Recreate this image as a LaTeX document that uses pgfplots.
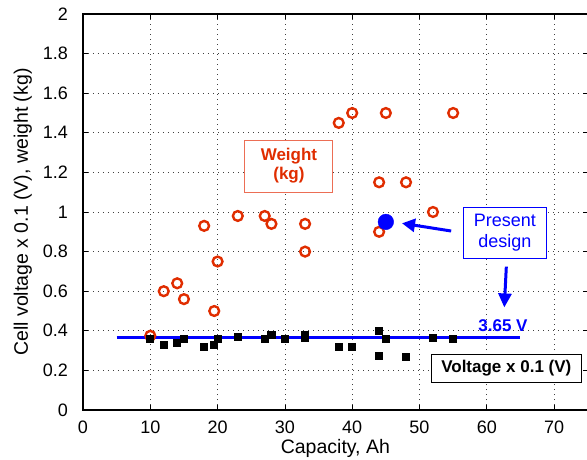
\documentclass[border=0pt]{standalone}
\usepackage{fontspec}
\setmainfont{Liberation Sans}
\usepackage{pgfplots}
\pgfplotsset{compat=1.18}
\usetikzlibrary{arrows.meta}

\definecolor{wred}{RGB}{224,45,0}
\definecolor{wredbox}{RGB}{236,110,85}
\definecolor{pblue}{RGB}{0,0,255}

\begin{document}
\begin{tikzpicture}
\begin{axis}[
    scale only axis,
    width=504.75bp, height=396bp,
    xmin=0, xmax=75, ymin=0, ymax=2,
    xtick={0,10,20,30,40,50,60,70},
    ytick={0,0.2,0.4,0.6,0.8,1,1.2,1.4,1.6,1.8,2},
    tick align=inside,
    major tick length=5bp,
    axis line style={line width=1.1bp},
    every tick/.style={black, line width=0.8bp},
    grid=major,
    major grid style={black!75, line width=0.7bp, dash pattern=on 0.8bp off 4.2bp},
    /pgf/number format/assume math mode=true,
    tick label style={font=\fontsize{18bp}{20bp}\selectfont},
    x tick label style={inner sep=0pt, yshift=-11bp},
    y tick label style={inner sep=0pt, xshift=-15bp},
    label style={font=\fontsize{19.5bp}{22bp}\selectfont},
    xlabel={Capacity, Ah},
    ylabel={Cell voltage x 0.1 (V), weight (kg)},
    x label style={at={(axis description cs:0.5,-0.1086)}, anchor=base},
    y label style={at={(axis description cs:-0.109,0.5)}, anchor=base},
    clip=false,
]
\coordinate (sw) at (rel axis cs:0,0);

% weight (kg)
\addplot[only marks, mark=o, wred, mark size=4.9bp, line width=2.4bp] coordinates {
    (10,0.375) (12,0.60) (14,0.64) (15,0.56) (18,0.93) (19.5,0.50) (20,0.75)
    (23,0.98) (27,0.98) (28,0.94) (33,0.94) (33,0.80) (38,1.45) (40,1.50)
    (44,1.15) (44,0.90) (45,1.50) (48,1.15) (52,1.00) (55,1.50)
};
% cell voltage x 0.1
\addplot[only marks, mark=square*, black, mark size=3.6bp, line width=0.8bp] coordinates {
    (10,0.36) (12,0.33) (14,0.34) (15,0.36) (18,0.32) (19.5,0.33) (20,0.36)
    (23,0.37) (27,0.36) (28,0.38) (30,0.36) (33,0.38) (33,0.365) (38,0.32)
    (40,0.32) (44,0.40) (44,0.275) (45,0.36) (48,0.27) (52,0.365) (55,0.36)
};
% 3.65 V line
\addplot[pblue, line width=3bp] coordinates {(5,0.365) (65,0.365)};
% present design
\addplot[only marks, mark=*, pblue, mark size=7.8bp] coordinates {(45,0.95)};

\draw[pblue, line width=3bp, -{Triangle[length=13bp,width=13bp]}]
    (axis cs:54.7,0.904) -- (axis cs:47.4,0.943);
\draw[pblue, line width=3bp, -{Triangle[length=14bp,width=13bp]}]
    (axis cs:62.9,0.724) -- (axis cs:62.6,0.518);

\node[draw=wredbox, line width=1bp, fill=white, text=wred, align=center,
      font=\bfseries\fontsize{17bp}{19bp}\selectfont,
      minimum width=88bp, minimum height=52bp, inner sep=0pt]
    at (axis cs:30.6,1.232) {Weight\\(kg)};
\node[draw=pblue, line width=1bp, fill=white, text=pblue, align=center,
      font=\fontsize{18bp}{21bp}\selectfont,
      minimum width=82.4bp, minimum height=51bp, inner sep=0pt]
    at (axis cs:62.7,0.895) {Present\\design};
\node[draw=black, line width=1bp, fill=white, text=black,
      font=\bfseries\fontsize{17bp}{19bp}\selectfont,
      minimum width=150bp, minimum height=28bp, inner sep=0pt]
    at (axis cs:62.9,0.21) {Voltage x 0.1 (V)};
\node[text=pblue, font=\bfseries\fontsize{17bp}{19bp}\selectfont]
    at (axis cs:62.4,0.426) {3.65 V};
\end{axis}
\pgfresetboundingbox
\path[use as bounding box] (sw) ++(-83bp,-50bp) rectangle ++(587bp,460bp);
\end{tikzpicture}
\end{document}
